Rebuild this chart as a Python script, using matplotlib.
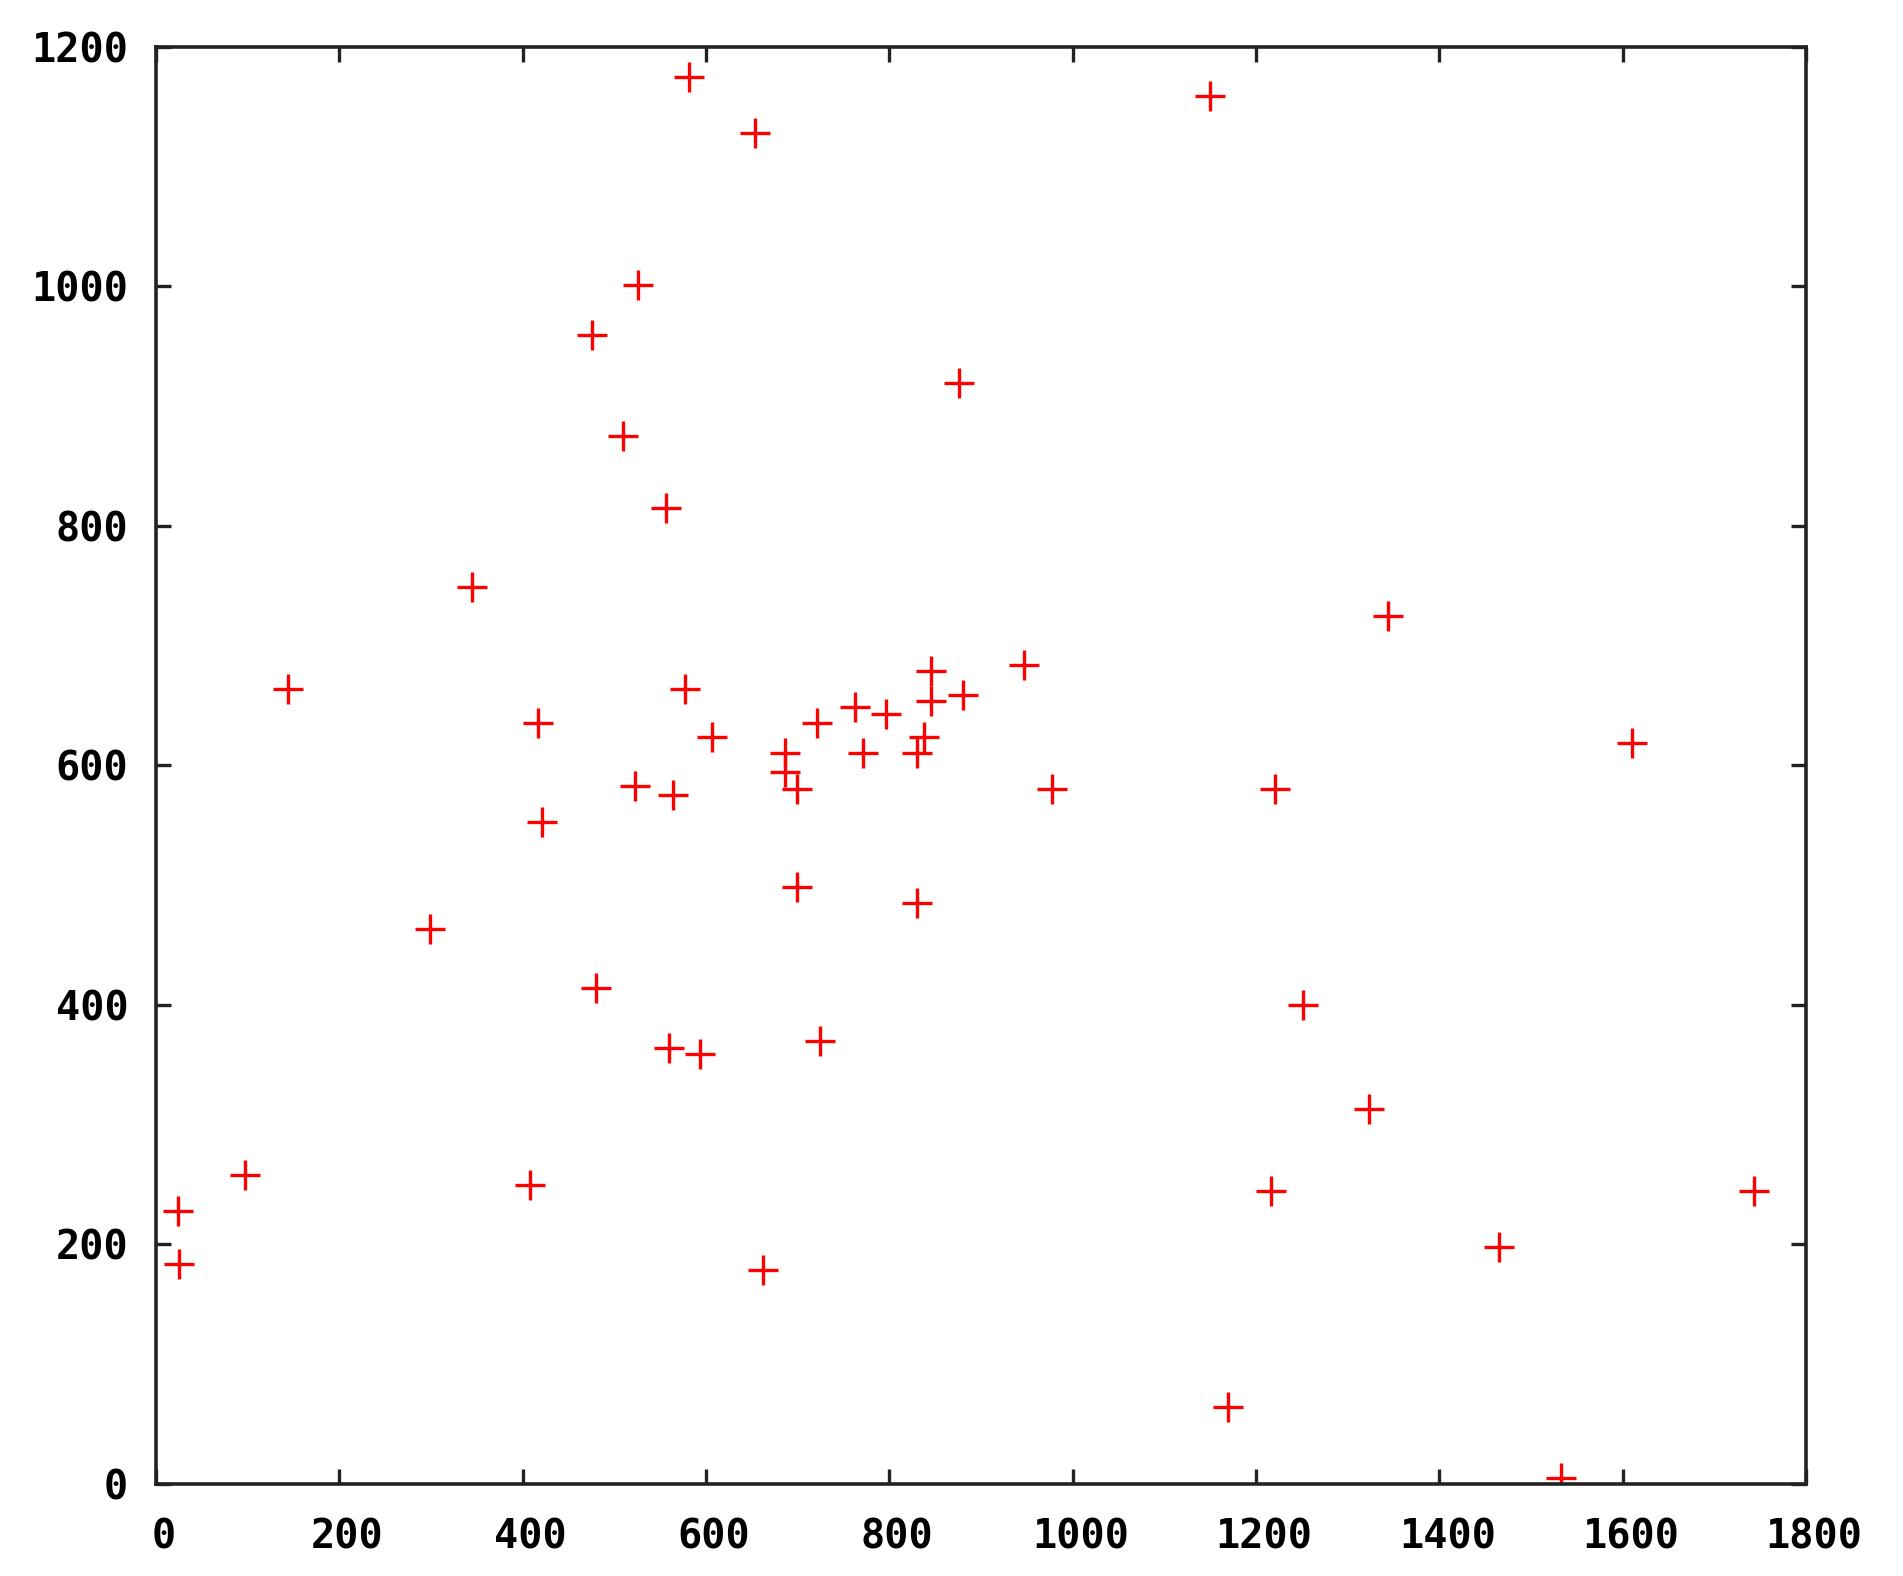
import matplotlib
matplotlib.use("Agg")
import matplotlib.pyplot as plt
import matplotlib.transforms as mtransforms

# points
xs = [581, 653, 1150, 526, 476, 509, 556, 876, 345, 144,
      577, 417, 606, 721, 763, 796, 846, 846, 880, 947,
      686, 686, 699, 771, 830, 838, 1344, 1610, 977, 1221,
      522, 564, 421, 699, 830, 299, 480, 1251, 560, 593,
      724, 1323, 24, 97, 408, 1216, 1743, 25, 662, 1465,
      1170, 1533]
ys = [1175, 1128, 1159, 1001, 959, 875, 815, 919, 749, 664,
      664, 635, 624, 635, 649, 643, 679, 654, 659, 684,
      610, 594, 580, 610, 610, 624, 725, 619, 580, 580,
      583, 575, 553, 498, 485, 463, 414, 400, 364, 359,
      370, 313, 228, 258, 250, 245, 245, 184, 179, 198,
      64, 5]

xticks = [0, 200, 400, 600, 800, 1000, 1200, 1400, 1600, 1800]
yticks = [0, 200, 400, 600, 800, 1000, 1200]

fig = plt.figure(figsize=(19.03, 15.76), dpi=100)
ax = fig.add_axes([0.082, 0.0584, 0.867, 0.912])

ax.plot(xs, ys, linestyle="none", marker="+", color="#ff0000",
        markersize=21, markeredgewidth=2.4)

ax.set_xlim(0, 1800)
ax.set_ylim(0, 1200)
ax.set_xticks(xticks)
ax.set_yticks(yticks)

for side in ax.spines.values():
    side.set_linewidth(2.6)
    side.set_color("#222222")

ax.tick_params(direction="in", length=11, width=2.4, color="#222222",
               top=True, right=True)
ax.tick_params(axis="x", pad=24)
ax.tick_params(axis="y", pad=20)

# gnuplot puts the x labels a bit to the right of the tick
shift = mtransforms.ScaledTranslation(8 / 100, 0, fig.dpi_scale_trans)
for lbl in ax.get_xticklabels():
    lbl.set_transform(lbl.get_transform() + shift)

for lbl in ax.get_xticklabels() + ax.get_yticklabels():
    lbl.set_fontfamily("DejaVu Sans Mono")
    lbl.set_fontweight("bold")
    lbl.set_fontsize(29)

fig.savefig("out.png", dpi=100)
